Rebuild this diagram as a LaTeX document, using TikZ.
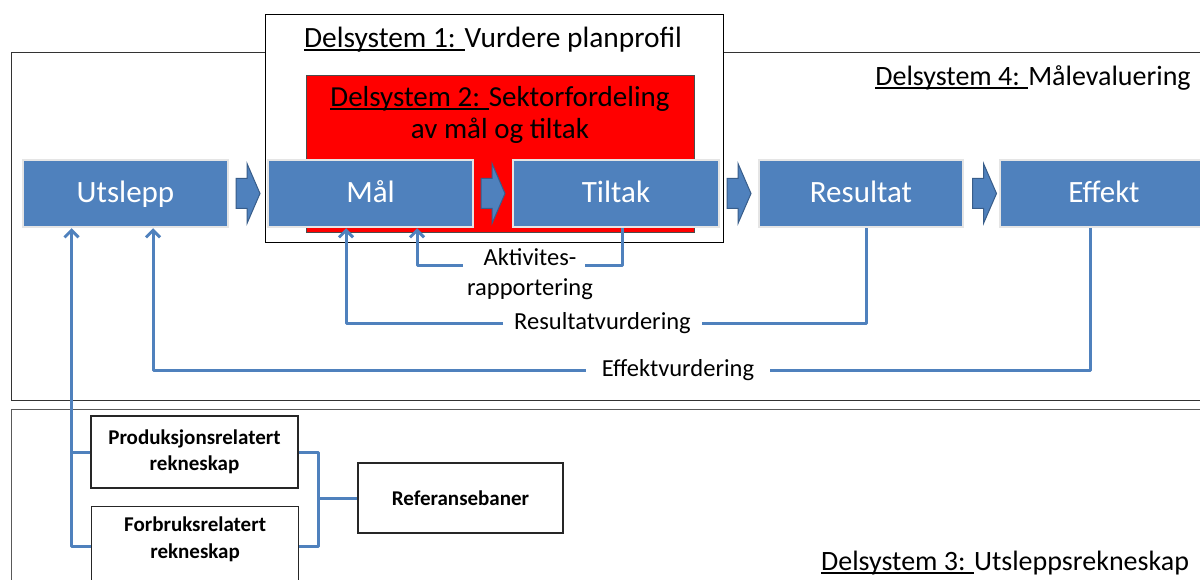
\documentclass[tikz,border=0pt]{standalone}
\usepackage{fontspec}
\setmainfont{Carlito}
\usetikzlibrary{calc,arrows.meta}
\definecolor{bx}{HTML}{4F81BD}
\definecolor{bxdark}{HTML}{385D8A}
% underlined heading prefix with a visible, thick rule
\newcommand\ulbox[1]{\setbox0\hbox{#1}\rlap{\rule[-3.2pt]{\wd0}{1.8pt}}\box0}

\begin{document}
\begin{tikzpicture}[x=1pt,y=-1pt,
  frame/.style={draw=black!80, fill=white, line width=1.1, inner sep=0},
  flow/.style={rectangle, fill=bx, draw=black!10, line width=2.5, text=white,
    font=\fontsize{31}{34}\selectfont, minimum height=67, inner sep=0,
    text height=22, text depth=3},
  sbox/.style={rectangle, draw=black!85, fill=white, line width=1.2, inner sep=0,
    font=\bfseries\fontsize{21}{26}\selectfont, align=center},
  heading/.style={font=\fontsize{29.4}{33}\selectfont, inner sep=0},
  lbl/.style={font=\fontsize{24.5}{29.5}\selectfont, align=center, inner ysep=0},
  conn/.style={draw=bx, line width=3, line join=round},
  >={Straight Barb[length=7pt,width=14pt]},
  chev/.pic={\path[fill=bx, draw=bxdark, line width=1]
    (-12,-15) -- (-1,-15) -- (-1,-30) -- (12,0) -- (-1,30) -- (-1,15) -- (-12,15) -- cycle;}
]
\useasboundingbox (0,0) rectangle (1200,580);

% subsystem frames
\node[frame, anchor=north west, minimum width=1201, minimum height=348] (ds4) at (11,52) {};
\node[frame, draw=black!65, anchor=north west, minimum width=1201, minimum height=200] (ds3) at (11,409) {};
\node[frame, draw=black, anchor=north west, minimum width=458, minimum height=228] (ds1) at (265,14) {};
\node[rectangle, fill=red, draw=black!70, line width=0.8, anchor=north west,
  minimum width=388, minimum height=157, inner sep=0] (ds2) at (306,75) {};

% headings
\node[heading] (ds1lbl) at (493,40) {\ulbox{Delsystem 1: }Vurdere planprofil};
\node[heading, align=center, font=\fontsize{29}{32}\selectfont] (ds2lbl) at (500,115)
  {\ulbox{Delsystem 2: }Sektorfordeling\\av mål og tiltak};
\node[heading, font=\fontsize{28}{31}\selectfont] (ds4lbl) at (1033,78) {\ulbox{Delsystem 4: }Målevaluering};
\node[heading, font=\fontsize{28}{31}\selectfont] (ds3lbl) at (1005,563) {\ulbox{Delsystem 3: }Utsleppsrekneskap};

% main process chain
\node[flow, minimum width=205] (utslepp) at (125.5,193.5) {Utslepp};
\node[flow, minimum width=205] (mal)     at (370.5,193.5) {Mål};
\node[flow, minimum width=206] (tiltak)  at (616,193.5)   {Tiltak};
\node[flow, minimum width=204] (res)     at (861,193.5)   {Resultat};
\node[flow, minimum width=208] (eff)     at (1104,193.5)  {Effekt};

\pic at ($(utslepp.east)!0.5!(mal.west)$) {chev};
\pic at ($(mal.east)!0.5!(tiltak.west)$) {chev};
\pic at ($(tiltak.east)!0.5!(res.west)$) {chev};
\pic at ($(res.east)!0.5!(eff.west)+(3,0)$) {chev};

% feedback labels
\node[lbl, inner xsep=4] (akt) at (530,274) {Aktivites-\\rapportering};
\node[lbl, inner xsep=11] (resv) at (602.5,323) {Resultatvurdering};
\node[lbl, inner xsep=16] (effv) at (678,370) {Effektvurdering};

% feedback loops
\draw[conn] ($(tiltak.south)+(6,0)$) |- ($(akt.north east)+(-12,17)$);
\draw[conn,->] ($(akt.north west)+(0,17)$) -| ($(mal.south)+(46.5,0)$);
\draw[conn] ($(res.south)+(5,0)$) |- (resv.east);
\draw[conn,->] (resv.west) -| ($(mal.south)+(-24.5,0)$);
\draw[conn] ($(eff.south)+(-14,0)$) |- (effv.east);
\draw[conn,->] (effv.west) -| ($(utslepp.south)+(27.5,0)$);

% emission accounting
\node[sbox, minimum width=207, minimum height=72] (prod) at (194.5,452) {Produksjonsrelatert\\rekneskap};
\node[sbox, anchor=north west, minimum width=207, minimum height=84] (forb) at (91,506) {};
\node[font=\bfseries\fontsize{21}{27}\selectfont, align=center, inner sep=0] (forbtxt)
  at ($(forb.north)+(0,33)$) {Forbruksrelatert\\rekneskap};
\node[sbox, font=\bfseries\fontsize{21}{26}\selectfont, minimum width=205, minimum height=70] (ref) at (460.5,498) {Referansebaner};

\coordinate (lbus) at ($(utslepp.south)+(-54,0)$);
\coordinate (rbus) at ($(prod.east)+(19,0)$);
\draw[conn,->] ($(forb.north west)+(0,40)$) -| (lbus);
\draw[conn] (prod.west) -- (prod.west -| lbus);
\draw[conn] (prod.east) -| ($(forb.north east)+(19,40)$) -- ($(forb.north east)+(0,40)$);
\draw[conn] (ref.west) -- (ref.west -| rbus);
\end{tikzpicture}
\end{document}
